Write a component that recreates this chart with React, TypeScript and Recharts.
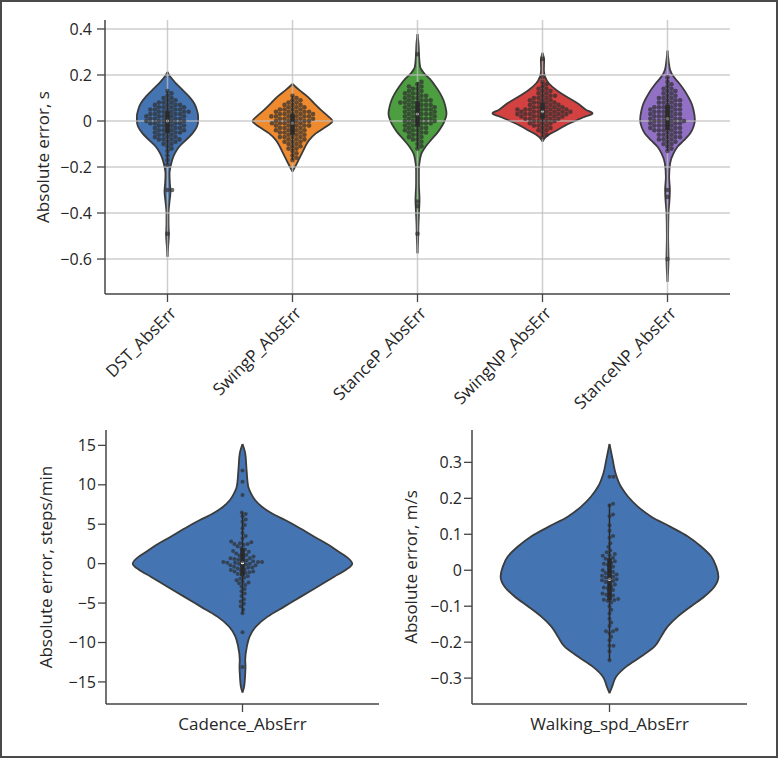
import React from 'react';
import { ComposedChart, Area, Line, Scatter, XAxis, YAxis, ReferenceLine } from 'recharts';

const FONT = '"Open Sans", "Noto Sans", sans-serif';
const INK = '#262626';
const SPINE = '#454545';
const OUTLINE = '#3b3b3b';

// ---- top panel: gait phase errors (s)
const PHASES = ['DST_AbsErr', 'SwingP_AbsErr', 'StanceP_AbsErr', 'SwingNP_AbsErr', 'StanceNP_AbsErr'];
const PHASE_COLORS = ['#4574b3', '#ef8a2e', '#4d9e40', '#d34141', '#9170c6'];
const PHASE_TICKS = [-0.6, -0.4, -0.2, 0, 0.2, 0.4];

// violin outlines: [error, half width in category units]
const DST_SHAPE = [[0.214, 0], [0.193, 0.021], [0.164, 0.067], [0.135, 0.12], [0.106, 0.173], [0.077, 0.213], [0.048, 0.235], [0.019, 0.245], [0, 0.245], [-0.025, 0.235], [-0.054, 0.2], [-0.083, 0.147], [-0.112, 0.093], [-0.141, 0.059], [-0.17, 0.037], [-0.199, 0.024], [-0.228, 0.016], [-0.271, 0.019], [-0.307, 0.024], [-0.351, 0.016], [-0.401, 0.008], [-0.445, 0.008], [-0.496, 0.011], [-0.546, 0.005], [-0.59, 0]];
const SWINGP_SHAPE = [[0.161, 0], [0.135, 0.053], [0.106, 0.12], [0.077, 0.173], [0.048, 0.227], [0.019, 0.288], [0, 0.32], [-0.025, 0.267], [-0.054, 0.187], [-0.083, 0.133], [-0.112, 0.101], [-0.141, 0.075], [-0.17, 0.048], [-0.199, 0.021], [-0.22, 0]];
const STANCEP_SHAPE = [[0.378, 0], [0.338, 0.008], [0.28, 0.013], [0.236, 0.021], [0.207, 0.053], [0.178, 0.107], [0.149, 0.147], [0.12, 0.181], [0.09, 0.208], [0.061, 0.224], [0.032, 0.232], [0.004, 0.219], [-0.025, 0.192], [-0.054, 0.155], [-0.083, 0.107], [-0.112, 0.064], [-0.141, 0.032], [-0.17, 0.019], [-0.213, 0.011], [-0.271, 0.011], [-0.343, 0.016], [-0.386, 0.013], [-0.445, 0.008], [-0.517, 0.005], [-0.575, 0]];
const SWINGNP_SHAPE = [[0.297, 0], [0.265, 0.013], [0.222, 0.011], [0.193, 0.02], [0.164, 0.05], [0.135, 0.11], [0.106, 0.19], [0.077, 0.28], [0.048, 0.35], [0.033, 0.4], [0.019, 0.34], [0, 0.26], [-0.02, 0.18], [-0.039, 0.12], [-0.06, 0.05], [-0.08, 0.01], [-0.09, 0]];
const STANCENP_SHAPE = [[0.306, 0], [0.265, 0.008], [0.222, 0.021], [0.193, 0.048], [0.164, 0.093], [0.135, 0.133], [0.106, 0.165], [0.077, 0.192], [0.048, 0.208], [0.004, 0.219], [-0.025, 0.208], [-0.054, 0.181], [-0.083, 0.133], [-0.112, 0.08], [-0.141, 0.048], [-0.184, 0.021], [-0.242, 0.013], [-0.3, 0.019], [-0.343, 0.016], [-0.4, 0.008], [-0.5, 0.005], [-0.6, 0.008], [-0.699, 0]];

// swarm points: error level (s) and how many subjects sit on it
const DST_LEVELS = [0.13, 0.12, 0.11, 0.1, 0.09, 0.08, 0.07, 0.06, 0.05, 0.04, 0.03, 0.02, 0.01, 0, -0.01, -0.02, -0.03, -0.04, -0.05, -0.06, -0.07, -0.08, -0.09, -0.1, -0.11, -0.12, -0.13, -0.15, -0.17, -0.19, -0.3, -0.49];
const DST_COUNTS = [1, 1, 1, 2, 2, 3, 4, 4, 5, 5, 5, 5, 5, 5, 5, 4, 4, 4, 4, 3, 3, 4, 2, 2, 1, 1, 1, 1, 1, 1, 2, 1];
const SWINGP_LEVELS = [0.11, 0.1, 0.09, 0.08, 0.07, 0.06, 0.05, 0.04, 0.03, 0.02, 0.01, 0, -0.01, -0.02, -0.03, -0.04, -0.05, -0.06, -0.07, -0.08, -0.09, -0.1, -0.11, -0.12, -0.13, -0.14, -0.15, -0.16, -0.17];
const SWINGP_COUNTS = [1, 1, 2, 2, 3, 3, 4, 5, 5, 6, 5, 5, 5, 5, 4, 4, 4, 3, 4, 3, 3, 2, 2, 2, 1, 1, 1, 1, 1];
const STANCEP_LEVELS = [0.29, 0.17, 0.16, 0.15, 0.14, 0.13, 0.12, 0.11, 0.1, 0.09, 0.08, 0.07, 0.06, 0.05, 0.04, 0.03, 0.02, 0.01, 0, -0.01, -0.02, -0.03, -0.04, -0.05, -0.06, -0.07, -0.08, -0.09, -0.1, -0.11, -0.12, -0.35, -0.37, -0.49];
const STANCEP_COUNTS = [1, 1, 1, 2, 2, 2, 3, 3, 3, 4, 4, 4, 4, 4, 4, 4, 4, 4, 4, 4, 3, 3, 3, 3, 2, 2, 2, 1, 1, 1, 1, 1, 1, 1];
const SWINGNP_LEVELS = [0.27, 0.19, 0.17, 0.16, 0.15, 0.14, 0.13, 0.12, 0.11, 0.1, 0.09, 0.08, 0.07, 0.06, 0.05, 0.04, 0.03, 0.02, 0.01, 0, -0.01, -0.02, -0.03, -0.04, -0.05, -0.06, -0.07];
const SWINGNP_COUNTS = [1, 1, 1, 1, 1, 2, 2, 2, 3, 3, 3, 4, 4, 5, 7, 7, 7, 6, 5, 4, 3, 3, 2, 2, 1, 1, 1];
const STANCENP_LEVELS = [0.19, 0.17, 0.16, 0.15, 0.14, 0.13, 0.12, 0.11, 0.1, 0.09, 0.08, 0.07, 0.06, 0.05, 0.04, 0.03, 0.02, 0.01, 0, -0.01, -0.02, -0.03, -0.04, -0.05, -0.06, -0.07, -0.08, -0.09, -0.1, -0.11, -0.12, -0.13, -0.3, -0.33, -0.6];
const STANCENP_COUNTS = [1, 1, 1, 1, 2, 2, 2, 2, 3, 3, 3, 3, 4, 4, 4, 4, 4, 4, 5, 4, 4, 4, 4, 3, 3, 3, 3, 2, 2, 1, 1, 1, 1, 1, 1];

// ---- bottom left: cadence (steps/min)
const CADENCE_NAME = ['Cadence_AbsErr'];
const CADENCE_TICKS = [-15, -10, -5, 0, 5, 10, 15];
const CADENCE_SHAPE = [[15.17, 0], [13.98, 0.01], [11.87, 0.015], [9.76, 0.021], [8.91, 0.031], [8.07, 0.046], [7.22, 0.071], [6.38, 0.107], [5.53, 0.156], [4.69, 0.201], [3.42, 0.263], [2.15, 0.326], [1.31, 0.361], [0.89, 0.38], [0, 0.402], [-0.8, 0.378], [-1.65, 0.336], [-2.92, 0.275], [-4.18, 0.214], [-5.45, 0.153], [-6.72, 0.092], [-7.98, 0.049], [-9.25, 0.026], [-10.52, 0.016], [-12.21, 0.01], [-13.05, 0.011], [-13.9, 0.01], [-15.59, 0.006], [-16.35, 0]];
const CADENCE_ERR = [11.8, 10.4, 8.7, 6.5, 6.3, 6.0, 5.6, 5.3, 4.9, 4.5, 3.9, 3.5, 3.2, 2.8, 2.7, 2.6, 2.5, 2.5, 2.4, 2.2, 2.0, 1.8, 1.6, 1.5, 1.4, 1.3, 1.1, 1.0, 0.9, 0.8, 0.7, 0.7, 0.6, 0.5, 0.4, 0.3, 0.3, 0.2, 0.2, 0.2, 0.1, 0.1, 0.0, 0.0, -0.1, -0.2, -0.2, -0.3, -0.4, -0.5, -0.5, -0.6, -0.7, -0.8, -0.9, -1.0, -1.0, -1.1, -1.2, -1.3, -1.4, -1.6, -1.8, -1.9, -2.1, -2.3, -2.4, -2.5, -2.7, -2.9, -3.2, -3.5, -3.8, -4.1, -4.5, -4.8, -5.1, -5.4, -5.8, -6.3, -8.7, -13.1];

// ---- bottom right: walking speed (m/s)
const SPEED_NAME = ['Walking_spd_AbsErr'];
const SPEED_TICKS = [-0.3, -0.2, -0.1, 0, 0.1, 0.2, 0.3];
const SPEED_SHAPE = [[0.351, 0], [0.306, 0.012], [0.27, 0.022], [0.232, 0.042], [0.205, 0.067], [0.177, 0.103], [0.149, 0.152], [0.12, 0.224], [0.094, 0.285], [0.066, 0.333], [0.038, 0.37], [0.01, 0.388], [-0.018, 0.396], [-0.045, 0.382], [-0.073, 0.345], [-0.1, 0.297], [-0.129, 0.248], [-0.156, 0.212], [-0.184, 0.188], [-0.212, 0.164], [-0.24, 0.115], [-0.268, 0.061], [-0.296, 0.024], [-0.323, 0.01], [-0.342, 0]];
const SPEED_ERR = [0.26, 0.26, 0.185, 0.18, 0.155, 0.15, 0.125, 0.11, 0.095, 0.09, 0.075, 0.065, 0.055, 0.05, 0.045, 0.042, 0.04, 0.035, 0.032, 0.03, 0.025, 0.02, 0.018, 0.015, 0.01, 0.005, 0.0, -0.005, -0.008, -0.01, -0.012, -0.015, -0.018, -0.02, -0.022, -0.025, -0.028, -0.03, -0.033, -0.035, -0.04, -0.045, -0.048, -0.05, -0.055, -0.06, -0.065, -0.068, -0.07, -0.075, -0.08, -0.082, -0.083, -0.085, -0.09, -0.1, -0.11, -0.12, -0.135, -0.145, -0.155, -0.165, -0.17, -0.17, -0.175, -0.185, -0.195, -0.21, -0.21, -0.225, -0.25];

const expand = (levels: number[], counts: number[]) =>
  levels.flatMap((v, i) => Array.from({ length: counts[i] }, () => v));

const quantile = (s: number[], p: number) => {
  const i = (s.length - 1) * p;
  const lo = Math.floor(i);
  const hi = Math.ceil(i);
  return s[lo] + (s[hi] - s[lo]) * (i - lo);
};

// box of the inner "box" violin style: quartiles and 1.5 IQR whiskers
function boxStats(values: number[]) {
  const s = [...values].sort((a, b) => a - b);
  const q1 = quantile(s, 0.25);
  const med = quantile(s, 0.5);
  const q3 = quantile(s, 0.75);
  const lim = 1.5 * (q3 - q1);
  const lo = Math.min(...s.filter((v) => v >= q1 - lim));
  const hi = Math.max(...s.filter((v) => v <= q3 + lim));
  return { q1, med, q3, lo, hi };
}

// beeswarm layout, done in pixel space so the dots don't overlap
function swarm(values: number[], center: number, xppu: number, yppu: number, d: number) {
  const placed: { px: number; py: number }[] = [];
  return [...values].sort((a, b) => a - b).map((v) => {
    const py = v * yppu;
    const near = placed.filter((q) => Math.abs(q.py - py) < d);
    const cands = [0];
    near.forEach((q) => {
      const dx = Math.sqrt(d * d - (q.py - py) ** 2);
      cands.push(q.px + dx, q.px - dx);
    });
    cands.sort((a, b) => Math.abs(a) - Math.abs(b));
    const px = cands.find((c) => near.every((q) => (q.px - c) ** 2 + (q.py - py) ** 2 >= d * d - 0.01)) ?? 0;
    placed.push({ px, py });
    return { x: center + px / xppu, y: v };
  });
}

const fmtTick = (v: number) => (v === 0 ? '0' : (v < 0 ? '\u2212' : '') + String(Math.abs(v)));

type Violin = { shape: number[][]; values: number[]; color: string };

function PhaseTick(props: any) {
  const { x, y, payload } = props;
  const px = x + 10;
  const py = y + 10;
  return (
    <text x={px} y={py} transform={`rotate(-45 ${px} ${py})`} textAnchor="end" fill={INK} fontSize={17} fontFamily={FONT}>
      {PHASES[payload.value]}
    </text>
  );
}

function ViolinPanel(props: {
  width: number; height: number; margin: { top: number; right: number; bottom: number; left: number };
  yWidth: number; xHeight: number; xDomain: number[]; yDomain: number[]; yTicks: number[];
  names: string[]; violins: Violin[]; title: string; titleDx: number; grid?: boolean; rotated?: boolean;
  dot: number; tickMargin: number;
}) {
  const { width, height, margin, yWidth, xHeight, xDomain, yDomain, yTicks, names, violins, title, titleDx, grid, rotated, dot, tickMargin } = props;
  const plotW = width - margin.left - margin.right - yWidth;
  const plotH = height - margin.top - margin.bottom - xHeight;
  const xppu = plotW / (xDomain[1] - xDomain[0]);
  const yppu = plotH / (yDomain[1] - yDomain[0]);
  const cats = names.map((_, i) => i);

  const areas = violins.map((v, i) =>
    [...v.shape].sort((a, b) => a[0] - b[0]).map(([y, w]) => ({ y, r: [i - w, i + w] })));
  const boxes = violins.map((v) => boxStats(v.values));
  const dots = violins.flatMap((v, i) => swarm(v.values, i, xppu, yppu, dot * 2));
  const medians = boxes.map((b, i) => ({ x: i, y: b.med }));

  return (
    <ComposedChart width={width} height={height} margin={margin} layout="vertical">
      <XAxis
        type="number" dataKey="x" domain={xDomain} ticks={cats} allowDataOverflow interval={0}
        height={xHeight} tickSize={8} tickMargin={rotated ? 2 : 6}
        axisLine={{ stroke: SPINE, strokeWidth: 1.5 }} tickLine={{ stroke: SPINE, strokeWidth: 1.3 }}
        tick={rotated ? <PhaseTick /> : { fill: INK, fontSize: 17, fontFamily: FONT }}
        tickFormatter={(i: number) => names[i]}
      />
      <YAxis
        type="number" dataKey="y" domain={yDomain} ticks={yTicks} allowDataOverflow interval={0} reversed
        width={yWidth} tickSize={8} tickMargin={tickMargin} tickFormatter={fmtTick}
        axisLine={{ stroke: SPINE, strokeWidth: 1.5 }} tickLine={{ stroke: SPINE, strokeWidth: 1.3 }}
        tick={{ fill: INK, fontSize: 16, fontFamily: FONT }}
        label={{
          value: title,
          content: (p: any) => {
            const cx = p.viewBox.x + titleDx;
            const cy = p.viewBox.y + p.viewBox.height / 2;
            return (
              <text x={cx} y={cy} transform={`rotate(-90 ${cx} ${cy})`} textAnchor="middle" dominantBaseline="central" fill={INK} fontSize={17} fontFamily={FONT}>
                {title}
              </text>
            );
          },
        }}
      />
      {violins.map((v, i) => (
        <Area key={`v${i}`} data={areas[i]} dataKey="r" type="monotone" fill={v.color} fillOpacity={1}
          stroke={OUTLINE} strokeWidth={1.8} dot={false} activeDot={false} isAnimationActive={false} />
      ))}
      {grid && yTicks.map((t) => (
        <ReferenceLine key={`gy${t}`} y={t} stroke="#bdbdbd" strokeOpacity={0.75} strokeWidth={1.5} />
      ))}
      {grid && cats.map((c) => (
        <ReferenceLine key={`gx${c}`} x={c} stroke="#bdbdbd" strokeOpacity={0.75} strokeWidth={1.5} />
      ))}
      {boxes.map((b, i) => (
        <Line key={`w${i}`} data={[{ x: i, y: b.lo }, { x: i, y: b.hi }]} dataKey="x" stroke={INK}
          strokeWidth={1.5} dot={false} activeDot={false} isAnimationActive={false} />
      ))}
      {boxes.map((b, i) => (
        <Line key={`b${i}`} data={[{ x: i, y: b.q1 }, { x: i, y: b.q3 }]} dataKey="x" stroke={INK}
          strokeWidth={4.5} dot={false} activeDot={false} isAnimationActive={false} />
      ))}
      <Scatter data={medians} isAnimationActive={false}
        shape={(p: any) => <circle cx={p.cx} cy={p.cy} r={1.7} fill="#ffffff" />} />
      <Scatter data={dots} isAnimationActive={false}
        shape={(p: any) => <circle cx={p.cx} cy={p.cy} r={dot} fill="#2e2e2e" fillOpacity={0.7} />} />
    </ComposedChart>
  );
}

export default function App() {
  const phaseSets = [
    [DST_SHAPE, expand(DST_LEVELS, DST_COUNTS)],
    [SWINGP_SHAPE, expand(SWINGP_LEVELS, SWINGP_COUNTS)],
    [STANCEP_SHAPE, expand(STANCEP_LEVELS, STANCEP_COUNTS)],
    [SWINGNP_SHAPE, expand(SWINGNP_LEVELS, SWINGNP_COUNTS)],
    [STANCENP_SHAPE, expand(STANCENP_LEVELS, STANCENP_COUNTS)],
  ] as [number[][], number[]][];
  const phaseViolins = phaseSets.map(([shape, values], i) => ({ shape, values, color: PHASE_COLORS[i] }));

  return (
    <div style={{ position: 'absolute', left: 0, top: 0, width: 779, height: 759, background: '#ffffff', fontFamily: FONT }}>
      <div style={{ position: 'absolute', left: 0, top: 0 }}>
        <ViolinPanel
          width={779} height={420} margin={{ top: 20, right: 49, bottom: 16, left: 25 }}
          yWidth={80} xHeight={110} xDomain={[-0.5, 4.5]} yDomain={[-0.752, 0.439]} yTicks={PHASE_TICKS}
          names={PHASES} violins={phaseViolins} title="Absolute error, s" titleDx={17}
          grid rotated dot={2.3} tickMargin={5}
        />
      </div>
      <div style={{ position: 'absolute', left: 0, top: 400 }}>
        <ViolinPanel
          width={390} height={359} margin={{ top: 30, right: 11, bottom: 15, left: 26 }}
          yWidth={80} xHeight={40} xDomain={[-0.5, 0.5]} yDomain={[-17.8, 16.95]} yTicks={CADENCE_TICKS}
          names={CADENCE_NAME} violins={[{ shape: CADENCE_SHAPE, values: CADENCE_ERR, color: '#4574b3' }]}
          title="Absolute error, steps/min" titleDx={19} dot={2} tickMargin={2}
        />
      </div>
      <div style={{ position: 'absolute', left: 390, top: 400 }}>
        <ViolinPanel
          width={389} height={359} margin={{ top: 30, right: 32, bottom: 15, left: 12 }}
          yWidth={70} xHeight={40} xDomain={[-0.5, 0.5]} yDomain={[-0.372, 0.39]} yTicks={SPEED_TICKS}
          names={SPEED_NAME} violins={[{ shape: SPEED_SHAPE, values: SPEED_ERR, color: '#4574b3' }]}
          title="Absolute error, m/s" titleDx={8} dot={2} tickMargin={2}
        />
      </div>
      <div style={{ position: 'absolute', left: 0, top: 0, width: 778, height: 758, border: '2px solid #4a4a4a', boxSizing: 'border-box', pointerEvents: 'none' }} />
    </div>
  );
}
